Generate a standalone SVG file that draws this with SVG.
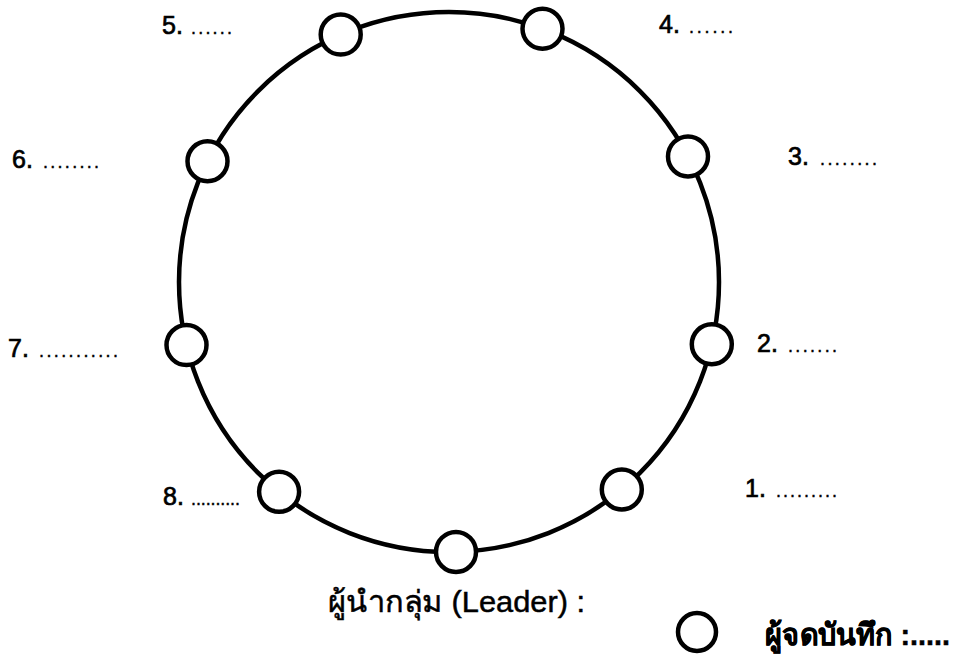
<svg xmlns="http://www.w3.org/2000/svg" width="958" height="661" viewBox="0 0 958 661">
<style>
.ring{fill:none;stroke:#000;stroke-width:4.5}
.seat{fill:#fff;stroke:#000;stroke-width:4.5}
.lbl{font-family:"Liberation Sans",Arial,sans-serif;font-size:25px;fill:#000;stroke:#000;stroke-width:0.7}
.dots{font-family:"Liberation Sans",Arial,sans-serif;font-size:18px;fill:#000;stroke:#000;stroke-width:0.4}
.th{font-family:"Liberation Sans","Noto Sans",sans-serif;font-size:30px;fill:#000;stroke:#000;stroke-width:0.5}
</style>
<rect width="958" height="661" fill="#fff"/>
<g id="connectors">
<circle class="ring" cx="449" cy="282" r="270"/>
</g>
<g id="seat-5"><circle class="seat" cx="340.7" cy="34.6" r="20"/></g>
<g id="seat-4"><circle class="seat" cx="542.5" cy="28.7" r="20"/></g>
<g id="seat-3"><circle class="seat" cx="688" cy="156.4" r="20"/></g>
<g id="seat-6"><circle class="seat" cx="207.5" cy="161.3" r="20"/></g>
<g id="seat-7"><circle class="seat" cx="186.5" cy="345.1" r="20"/></g>
<g id="seat-2"><circle class="seat" cx="711.8" cy="344.2" r="20"/></g>
<g id="seat-8"><circle class="seat" cx="279.1" cy="491.8" r="20"/></g>
<g id="seat-leader"><circle class="seat" cx="456" cy="551.9" r="20"/></g>
<g id="seat-1"><circle class="seat" cx="621.8" cy="489.5" r="20"/></g>
<g id="labels">
<text class="lbl" x="162" y="34">5.</text><text class="dots" x="191" y="34" textLength="41" lengthAdjust="spacing">......</text>
<text class="lbl" x="659" y="33">4.</text><text class="dots" x="689" y="33" textLength="44" lengthAdjust="spacing">......</text>
<text class="lbl" x="788" y="165">3.</text><text class="dots" x="820" y="165" textLength="57" lengthAdjust="spacing">........</text>
<text class="lbl" x="12" y="168">6.</text><text class="dots" x="43" y="168" textLength="56" lengthAdjust="spacing">........</text>
<text class="lbl" x="8" y="357">7.</text><text class="dots" x="39" y="357" textLength="79" lengthAdjust="spacing">...........</text>
<text class="lbl" x="757" y="352">2.</text><text class="dots" x="788" y="352" textLength="49" lengthAdjust="spacing">.......</text>
<text class="lbl" x="745" y="497">1.</text><text class="dots" x="776" y="497" textLength="61" lengthAdjust="spacing">.........</text>
<text class="lbl" x="163" y="505">8.</text><text class="dots" x="191" y="505" textLength="49" lengthAdjust="spacing">..........</text>
<text class="th" x="328" y="612" textLength="257" lengthAdjust="spacingAndGlyphs">ผู้นำกลุ่ม (Leader) :</text>
</g>
<g id="legend">
<circle class="seat" cx="697" cy="632" r="19"/>
<text class="th" x="765" y="645" font-weight="bold" textLength="185" lengthAdjust="spacingAndGlyphs">ผู้จดบันทึก :.....</text>
</g>
</svg>
